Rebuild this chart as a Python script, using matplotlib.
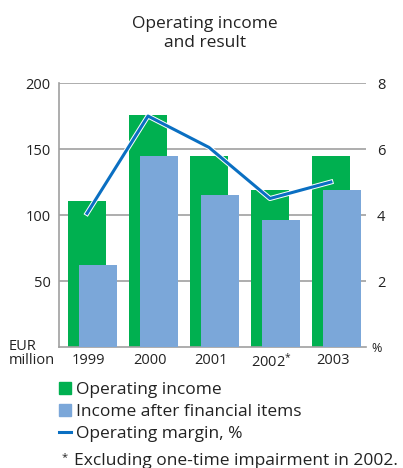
import matplotlib
matplotlib.use("Agg")
import matplotlib.pyplot as plt
import matplotlib.patheffects as pe
from matplotlib.patches import Patch
from matplotlib.lines import Line2D
import numpy as np

plt.rcParams['font.family'] = ['Open Sans', 'DejaVu Sans']
plt.rcParams['mathtext.fontset'] = 'custom'
plt.rcParams['mathtext.rm'] = 'Open Sans'
plt.rcParams['mathtext.it'] = 'Open Sans'

years = ['1999', '2000', '2001', '2002*', '2003']
operating_income = [111, 176, 145, 119, 145]
income_after_fin = [62, 145, 115, 96, 119]
operating_margin = [4.05, 7.0, 6.05, 4.5, 5.0]

green = '#00B050'
light_blue = '#7BA7D9'
line_blue = '#0A6FC2'
grid_gray = '#A0A0A0'
text_col = '#222222'

fig = plt.figure(figsize=(4.03, 4.68), dpi=100)
ax = fig.add_axes([0.1464, 0.2585, 0.7616, 0.5641])

x = np.arange(len(years))
w = 0.623
ax.bar(x, operating_income, width=w, color=green, zorder=2)
ax.bar(x + 0.18, income_after_fin, width=w, color=light_blue, zorder=3)

ax.set_xlim(-0.459, 4.574)
ax.set_ylim(0, 200)
ax.set_yticks([50, 100, 150, 200])
ax.yaxis.grid(True, color=grid_gray, linewidth=1.2, zorder=0)
ax.set_axisbelow(True)
ax.tick_params(axis='y', length=0, labelsize=10.5, labelcolor=text_col, pad=6)
ax.set_xticks(x + 0.03)
# footnote marker as a small superscript
ax.set_xticklabels([y[:-1] + r'$^{*}$' if y.endswith('*') else y for y in years])
ax.tick_params(axis='x', length=0, labelsize=10.5, labelcolor=text_col, pad=4)
for s in ['top', 'right']:
    ax.spines[s].set_visible(False)
for s in ['left', 'bottom']:
    ax.spines[s].set_color(grid_gray)
    ax.spines[s].set_linewidth(1.2)

ax2 = ax.twinx()
ax2.set_ylim(0, 8)
ax2.set_yticks([2, 4, 6, 8])
ax2.tick_params(axis='y', length=0, labelsize=10.5, labelcolor=text_col, pad=8)
for s in ax2.spines.values():
    s.set_visible(False)
ax2.plot(x, operating_margin, color=line_blue, linewidth=2.2, zorder=5,
         path_effects=[pe.Stroke(linewidth=3.6, foreground='white'), pe.Normal()])

fig.text(0.509, 0.966, 'Operating income\nand result', ha='center', va='top',
         fontsize=12.5, color=text_col, linespacing=1.25)
fig.text(0.022, 0.245, 'EUR\nmillion', ha='left', va='center', fontsize=10.5,
         color=text_col, linespacing=0.95)
fig.text(0.922, 0.255, '%', ha='left', va='center', fontsize=9, color=text_col)

handles = [Patch(color=green), Patch(color=light_blue),
           Line2D([0], [0], color=line_blue, linewidth=2.2)]
labels = ['Operating income', 'Income after financial items', 'Operating margin, %']
fig.legend(handles, labels, loc='upper left', bbox_to_anchor=(0.147, 0.183),
           frameon=False, fontsize=12.5, handlelength=0.65, handleheight=0.65,
           handletextpad=0.3, labelspacing=0.33, borderaxespad=0, borderpad=0,
           labelcolor=text_col)
fig.text(0.152, 0.022, '*', ha='left', va='center', fontsize=8, color=text_col)
fig.text(0.184, 0.016, 'Excluding one-time impairment in 2002.', ha='left',
         va='center', fontsize=12.5, color=text_col)

fig.savefig('out.png', dpi=100)
